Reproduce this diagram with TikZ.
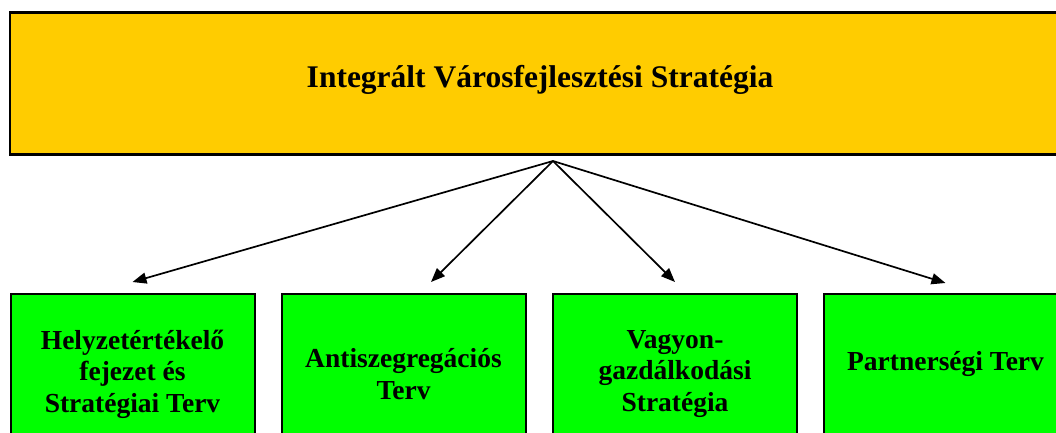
\documentclass[tikz,border=0pt]{standalone}
\usepackage{fontspec}
\setmainfont{Liberation Serif}
\usepackage{xcolor}
\usetikzlibrary{positioning,arrows.meta}
\definecolor{ivsnarancs}{HTML}{FFCC00}
\definecolor{tervzold}{HTML}{00FF00}

\begin{document}
\begin{tikzpicture}[x=1pt,y=-1pt,
  fokeret/.style={draw,line width=2.2pt,fill=ivsnarancs,minimum width=1060pt,minimum height=142pt,
    font=\fontsize{31.5}{36}\selectfont\bfseries,text height=22pt,text depth=15pt},
  alterv/.style={draw,line width=2pt,fill=tervzold,minimum width=244pt,minimum height=160pt,
    align=center,font=\fontsize{27.5}{31.5}\selectfont\bfseries},
  nyil/.style={line width=1.7pt,-{Triangle[length=14pt,width=11pt]}}]
\useasboundingbox (0,0) rectangle (1056,432);
\clip (0,0) rectangle (1056,432);
% felso doboz
\node[fokeret] (ivs) at (540,83.5) {Integrált Városfejlesztési Stratégia};
\coordinate (hub) at (553,161);
% also sor
\node[alterv] (helyzet) at (132.5,374) {Helyzetértékelő\\fejezet és\\Stratégiai Terv};
\node[alterv,right=25pt of helyzet] (anti) {Antiszegregációs\\Terv};
\node[alterv,right=25.5pt of anti] (vagyon) {Vagyon-\\gazdálkodási\\Stratégia};
\node[alterv,right=24.5pt of vagyon,text depth=27pt] (partner) {Partnerségi Terv};
% nyilak
\draw[nyil] (hub) -- ([yshift=11pt]helyzet.north);
\draw[nyil] (hub) -- ([xshift=27.5pt,yshift=11pt]anti.north);
\draw[nyil] (hub) -- ([yshift=11pt]vagyon.north);
\draw[nyil] (hub) -- ([yshift=10pt]partner.north);
\end{tikzpicture}
\end{document}
